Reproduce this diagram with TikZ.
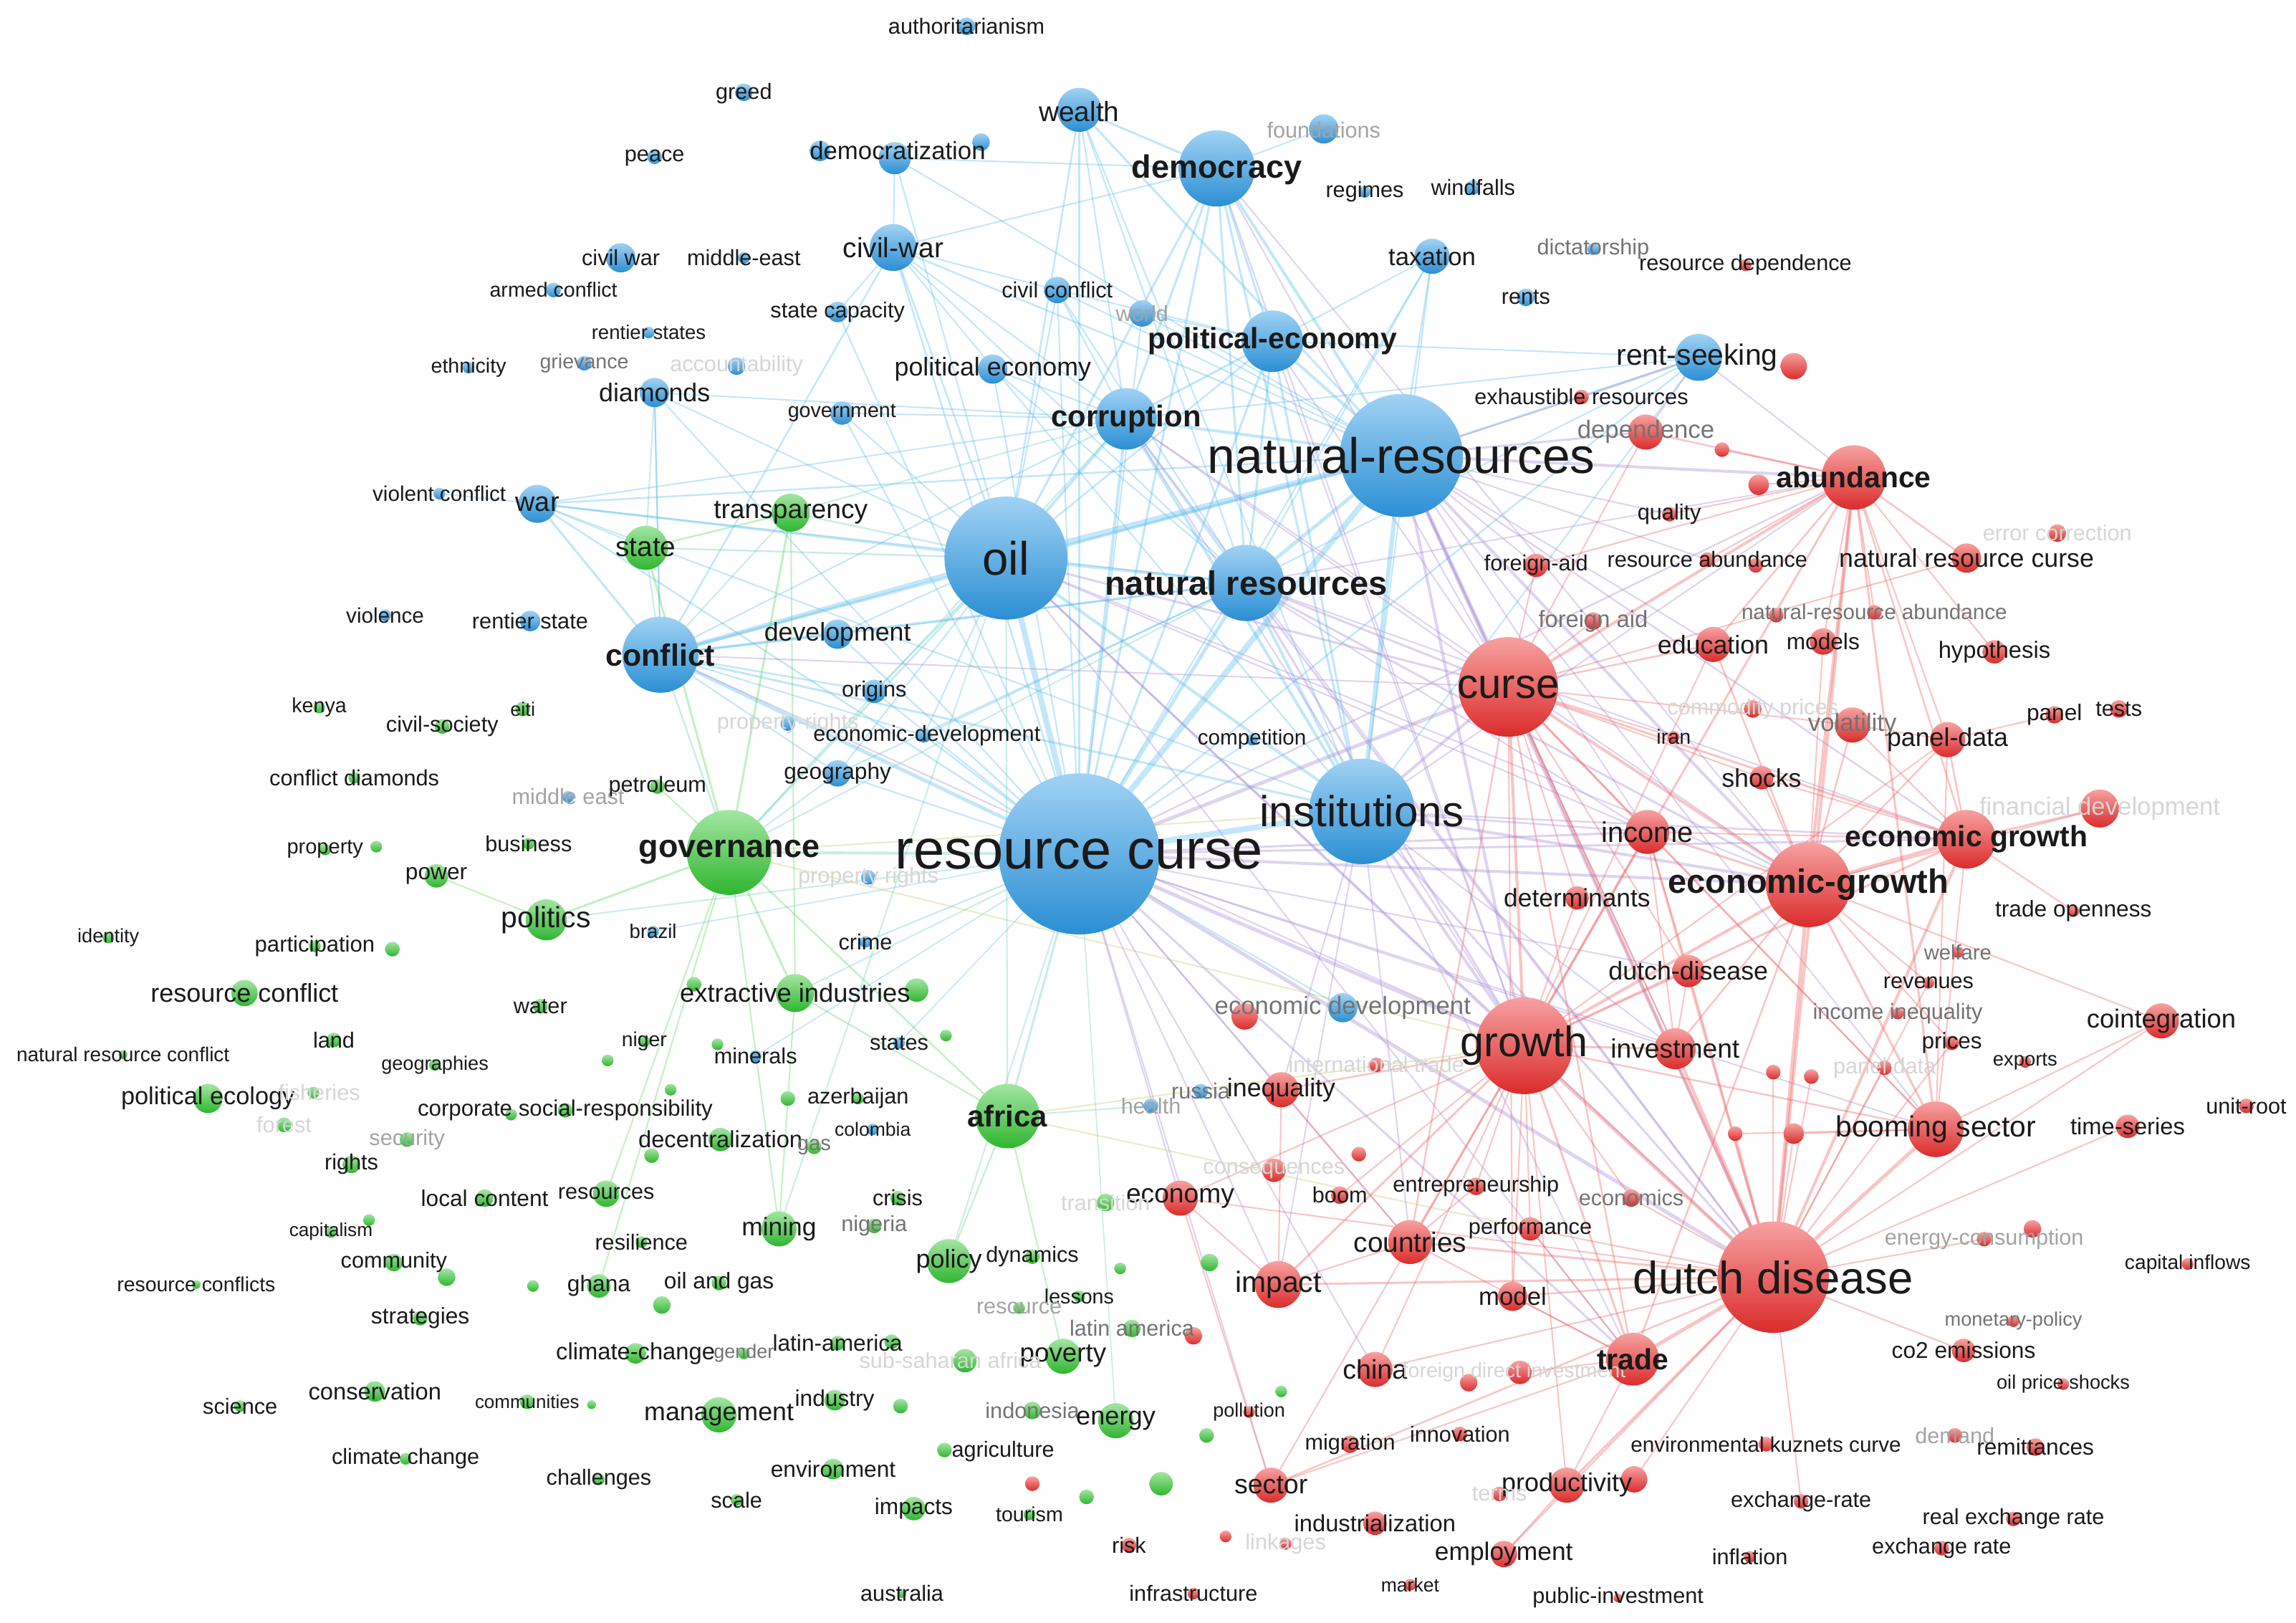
\documentclass[tikz,border=0pt]{standalone}
\usepackage{fontspec}
\setmainfont{Liberation Sans}
\definecolor{B}{HTML}{2E9BE6}
\definecolor{R}{HTML}{EE2F2F}
\definecolor{G}{HTML}{33C633}
\definecolor{ink}{HTML}{1A1A1A}
\colorlet{g1}{black!55}
\colorlet{g2}{black!36}
\colorlet{g3}{black!16}
\definecolor{eB}{HTML}{5BBDF0}
\definecolor{eR}{HTML}{F06060}
\definecolor{eG}{HTML}{5CD65C}
\definecolor{eP}{HTML}{A58AD8}
\definecolor{eT}{HTML}{6CCFC0}
\definecolor{eY}{HTML}{C8C860}
\pgfdeclarelayer{bgfill}\pgfdeclarelayer{bg}\pgfsetlayers{bgfill,bg,main}
\tikzset{
  dot/.style={circle, inner sep=0pt, draw=none},
  lab/.style={inner sep=0pt, anchor=center},
  edge/.style={line cap=round, opacity=0.36},
}
\def\kwlist{auth/660/18/6/B/0/0/15/ink/authoritarianism,
greed/508/63/6/B/0/1/15/ink/greed,
peace/447/107/5/B/0/1/15/ink/peace,
demz/611/108/11/B/2/-5/17/ink/democratization,
wealth/737/75/15/B/0/1/19/ink/wealth,
dem/831/115/26/B/0/1/22/ink/\bfseries democracy,
found/904/88/10/B/0/1/15/g2/foundations,
reg/932/131/4/B/0/0/15/ink/regimes,
wind/1006/128/5/B/0/0/15/ink/windfalls,
civw/424/176/10/B/0/0/15/ink/civil war,
mide/508/176/4/B/0/0/15/ink/middle-east,
cw/610/169/16/B/0/0/19/ink/civil-war,
armed/378/198/5/B/0/0/14/ink/armed conflict,
civc/722/198/9/B/0/0/15/ink/civil conflict,
stcap/572/213/7/B/0/0/15/ink/state capacity,
rents/443/227/4/B/0/0/13.5/ink/rentier states,
world/780/214/9/B/0/0/15/g2/world,
eth/320/251/4/B/0/0/14/ink/ethnicity,
griev/399/248/5/B/0/0/14/g1/grievance,
acc/503/250/6/B/0/0/15/g3/accountability,
diam/447/268/10/B/0/0/17.5/ink/diamonds,
polec/678/252/10/B/0/0/17.5/ink/political economy,
govt/575/282/8/B/0/0/14/ink/government,
pe/869/233/21/B/0/0/20/ink/\bfseries political-economy,
corr/769/286/21/B/0/0/20.5/ink/\bfseries corruption,
tax/978/175/12/B/0/0/17/ink/taxation,
dict/1088/170/4/B/0/0/15/g1/dictatorship,
rentz/1042/203/6/B/0/0/15/ink/rents,
rs/1160/244/16/B/-1/0/20/ink/rent-seeking,
nr/957/311/42/B/0/0/34/ink/natural-resources,
vc/300/337/4/B/0/0/14.5/ink/violent conflict,
war/367/344/13/B/0/0/18.5/ink/war,
oil/687/381/42/B/0/0/32/ink/oil,
nrs/851/398/26/B/0/0/23/ink/\bfseries natural resources,
viol/263/420/4/B/0/0/14.5/ink/violence,
rst/362/424/7/B/0/0/15/ink/rentier state,
conf/451/447/26/B/0/0/21/ink/\bfseries conflict,
dev/572/433/10/B/0/0/17.5/ink/development,
orig/597/472/8/B/0/0/15/ink/origins,
prr/538/494/5/B/0/0/15/g3/property-rights,
ecodev/631/502/5/B/2/0/15/ink/economic-development,
geog/572/528/9/B/0/0/15.5/ink/geography,
comp/855/505/4/B/0/0/14.5/ink/competition,
inst/930/554/36/B/0/0/29.5/ink/institutions,
midde/388/544/4/B/0/0/15/g2/middle east,
rc/737/583/55/B/0/0/38/ink/resource curse,
prr2/593/599/5/B/0/0/15/g3/property rights,
brazil/446/636/4/B/0/0/13.5/ink/brazil,
crime/591/643/4/B/0/0/15/ink/crime,
minerals/516/721/4/B/0/0/15/ink/minerals,
states/614/712/4/B/0/0/15/ink/states,
colom/596/771/4/B/0/0/13/ink/colombia,
health/786/755/5/B/0/0/15/g2/health,
russia/820/745/5/B/0/0/15/g1/russia,
edev2/917/688/10/B/0/0/17/g1/economic development,
rdep/1192/181/4/R/0/0/15/ink/resource dependence,
exh/1080/271/5/R/0/0/15/ink/exhaustible resources,
depd/1124/295/12/R/0/0/17/g1/dependence,
abund/1266/326/22/R/0/0/20/ink/\bfseries abundance,
qual/1140/351/5/R/0/0/15/ink/quality,
fa/1049/386/8/R/0/0/15/ink/foreign-aid,
rab/1166/382/5/R/0/0/15/ink/resource abundance,
nrcurse/1343/381/10/R/0/0/17.5/ink/natural resource curse,
errc/1405/364/6/R/0/0/15/g3/error correction,
fa2/1088/424/6/R/0/0/16/g1/foreign aid,
nrab/1280/418/5/R/0/0/14.5/g1/natural-resource abundance,
edu/1170/440/12/R/0/0/17.5/ink/education,
models/1245/438/9/R/0/0/15.5/ink/models,
hypo/1362/445/8/R/0/0/16/ink/hypothesis,
curse/1030/469/34/R/0/0/28.5/ink/curse,
iran/1143/503/4/R/0/0/14/ink/iran,
commp/1197/484/6/R/0/0/15/g3/commodity prices,
vol/1265/495/12/R/0/0/17/g1/volatility,
pdata/1330/505/12/R/0/0/17.5/ink/panel-data,
panel/1403/488/6/R/0/0/15.5/ink/panel,
tests/1447/484/6/R/0/0/15/ink/tests,
shocks/1203/531/8/R/0/0/17.5/ink/shocks,
findev/1434/552/13/R/0/0/17/g3/financial development,
eg2/1343/573/20/R/0/0/20/ink/\bfseries economic growth,
egr/1235/604/29/R/0/0/23/ink/\bfseries economic-growth,
inc/1125/568/15/R/0/0/19.5/ink/income,
detm/1077/613/8/R/0/0/17.3/ink/determinants,
topen/1416/622/4/R/0/0/15.5/ink/trade openness,
welf/1337/650/4/R/0/0/14.3/g1/welfare,
rev/1317/671/4/R/0/0/15/ink/revenues,
ddis/1153/663/11/R/0/0/17.5/ink/dutch-disease,
ineqi/1296/692/4/R/0/0/15/g1/income inequality,
coint/1476/697/12/R/0/0/17.8/ink/cointegration,
growth/1041/714/33/R/0/0/29/ink/growth,
invest/1144/716/14/R/0/0/18.2/ink/investment,
prices/1333/712/5/R/0/0/15.4/ink/prices,
exports/1383/725/4/R/0/0/13.4/ink/exports,
pdat2/1287/729/5/R/0/0/15/g3/panel data,
intr/940/727/5/R/0/0/15/g3/international trade,
ineq/875/744/12/R/0/0/17.5/ink/inequality,
unitr/1534/755/5/R/0/0/15/ink/unit-root,
tseries/1453/769/8/R/0/0/16/ink/time-series,
boom/1322/771/19/R/0/0/20/ink/booming sector,
economy/806/818/12/R/0/0/18.2/ink/economy,
boom2/915/816/6/R/0/0/15/ink/boom,
conseq/870/799/8/R/0/0/15/g3/consequences,
entre/1008/810/6/R/0/0/15/ink/entrepreneurship,
econs/1114/818/6/R/0/0/15/g1/economics,
perf/1045/839/8/R/0/0/15/ink/performance,
ctry/963/848/15/R/0/0/19/ink/countries,
impact/873/877/16/R/0/0/20/ink/impact,
model/1033/885/10/R/0/0/17/ink/model,
dd/1211/872/38/R/0/0/31/ink/dutch disease,
econs2/1355/846/5/R/0/0/15/g2/energy-consumption,
capin/1494/863/4/R/0/0/13.8/ink/capital inflows,
china/939/935/12/R/0/0/18.4/ink/china,
fdi/1038/937/8/R/-4/0/14/g3/foreign direct investment,
trade/1115/928/18/R/0/0/20/ink/\bfseries trade,
monp/1375/902/4/R/0/0/13.3/g1/monetary-policy,
co2/1341/922/8/R/0/0/15.5/ink/co2 emissions,
oilps/1409/945/4/R/0/0/13.3/ink/oil price shocks,
pollu/853/964/4/R/0/0/13.2/ink/pollution,
migr/922/986/6/R/0/0/15/ink/migration,
innov/997/979/5/R/0/0/15/ink/innovation,
ekc/1206/986/5/R/0/0/14.5/ink/environmental kuznets curve,
demand/1335/980/5/R/0/0/15/g2/demand,
remit/1390/988/6/R/0/0/15.5/ink/remittances,
sector/868/1014/12/R/0/0/18.4/ink/sector,
prod/1070/1014/12/R/0/0/17.6/ink/productivity,
terms/1024/1020/5/R/0/0/15/g3/terms,
exra/1230/1025/5/R/0/0/15/ink/exchange-rate,
rexr/1375/1037/5/R/0/0/15/ink/real exchange rate,
indz/939/1040/8/R/0/0/16/ink/industrialization,
linkg/878/1054/4/R/0/0/15/g3/linkages,
risk/771/1055/5/R/0/0/15/ink/risk,
employ/1027/1061/9/R/0/0/17.3/ink/employment,
infl/1195/1063/4/R/0/0/15/ink/inflation,
exr/1326/1057/5/R/0/0/15/ink/exchange rate,
infra/815/1088/4/R/0/0/15/ink/infrastructure,
market/963/1082/4/R/0/0/13/ink/market,
pubinv/1105/1091/3/R/0/0/15/ink/public-investment,
state/441/374/15/G/0/0/19/ink/state,
transp/540/350/13/G/0/0/18.2/ink/transparency,
kenya/218/483/4/G/0/0/14/ink/kenya,
civsoc/302/496/5/G/0/0/15/ink/civil-society,
eiti/357/484/5/G/0/0/13.3/ink/eiti,
cdiam/242/531/4/G/0/0/15/ink/conflict diamonds,
petro/449/537/5/G/0/0/15/ink/petroleum,
prop/222/580/4/G/0/0/14.2/ink/property,
bus/361/576/4/G/0/0/15/ink/business,
power/298/598/8/G/0/0/15.5/ink/power,
gov/498/582/29/G/0/0/22/ink/\bfseries governance,
ident/74/640/4/G/0/0/13.3/ink/identity,
partic/215/646/4/G/0/0/15.2/ink/participation,
politics/373/628/14/G/0/0/20/ink/politics,
rconf/167/678/9/G/0/0/17.6/ink/resource conflict,
water/369/687/5/G/0/0/15/ink/water,
extr/543/678/13/G/0/0/17.8/ink/extractive industries,
land/228/710/5/G/0/0/15/ink/land,
nrconf/84/720/3/G/0/0/13.7/ink/natural resource conflict,
niger/440/711/4/G/0/0/13.9/ink/niger,
geogr/297/727/4/G/0/0/13.3/ink/geographies,
pecol/142/750/10/G/0/0/16.8/ink/political ecology,
fish/214/746/4/G/4/0/15/g3/fisheries,
forest/194/768/5/G/0/0/15/g3/forest,
csr/386/758/5/G/0/0/15.3/ink/corporate social-responsibility,
secu/278/778/5/G/0/0/15/g2/security,
azer/586/750/4/G/0/0/15/ink/azerbaijan,
decen/492/778/8/G/0/0/16/ink/decentralization,
gas/556/783/5/G/0/0/14.3/g1/gas,
africa/688/762/22/G/0/0/20.5/ink/\bfseries africa,
rights/240/795/6/G/0/0/15/ink/rights,
localc/331/818/6/G/0/0/15.5/ink/local content,
resour/414/815/9/G/0/0/15/ink/resources,
crisis/613/818/5/G/0/0/15/ink/crisis,
nigeria/597/837/5/G/0/0/15/g1/nigeria,
mining/532/839/12/G/0/0/17.3/ink/mining,
resil/438/848/4/G/0/0/15/ink/resilience,
capit/226/841/4/G/0/0/12.8/ink/capitalism,
commty/269/862/6/G/0/0/15/ink/community,
rconfs/134/877/3/G/0/0/13.9/ink/resource conflicts,
ghana/409/878/8/G/0/0/15.5/ink/ghana,
oag/491/876/5/G/0/0/15.5/ink/oil and gas,
strat/287/900/5/G/0/0/15.5/ink/strategies,
trans/755/821/6/G/0/0/15/g3/transition,
policy/648/861/15/G/0/0/17.6/ink/policy,
dyn/705/858/5/G/0/0/15/ink/dynamics,
lessons/737/885/4/G/0/0/14/ink/lessons,
resrc/696/893/4/G/0/0/15/g2/resource,
latam/773/907/6/G/0/0/15/g1/latin america,
clch/434/924/7/G/0/0/16/ink/climate-change,
gender/508/924/4/G/0/0/13.2/g1/gender,
latam2/572/917/5/G/0/0/15.5/ink/latin-america,
poverty/726/926/12/G/0/0/18/ink/poverty,
ssa/659/929/8/G/-10/0/15/g3/sub-saharan africa,
science/164/960/4/G/0/0/15/ink/science,
conserv/256/950/7/G/0/0/16/ink/conservation,
cmties/360/957/5/G/0/0/12.7/ink/communities,
manag/491/966/12/G/0/0/17.5/ink/management,
industry/570/956/7/G/0/0/15.5/ink/industry,
indon/705/963/6/G/0/0/15/g1/indonesia,
energy/762/970/12/G/0/0/17.7/ink/energy,
clch2/277/996/4/G/0/0/15/ink/climate change,
agri/645/990/5/G/40/1/15/ink/agriculture,
chall/409/1010/4/G/0/0/15/ink/challenges,
envir/569/1003/7/G/0/0/15.5/ink/environment,
scale/503/1024/4/G/0/0/15/ink/scale,
impacts/624/1030/8/G/0/0/15.5/ink/impacts,
tourism/703/1034/4/G/0/0/14/ink/tourism,
austr/616/1088/3/G/0/0/15/ink/australia}
\def\dotlist{u1/560/103/7/B, u2/670/97/6/B, u3/1225/250/9/R, u4/1176/307/5/R, u5/1201/331/7/R,
u6/1199/386/5/R, u7/1213/420/5/R, u8/257/578/4/G, u9/268/648/5/G, u10/474/672/5/G, u11/626/676/8/G,
u12/850/694/9/R, u13/415/724/4/G, u14/490/713/4/G, u15/646/707/4/G, u16/1211/732/5/R, u17/1237/735/5/R,
u18/349/761/4/G, u19/458/744/4/G, u20/538/750/5/G, u21/445/789/5/G, u22/252/833/4/G, u23/305/872/6/G,
u24/364/878/4/G, u25/452/891/6/G, u26/765/866/4/G, u27/826/862/6/G, u28/928/788/5/R, u29/1388/839/6/R,
u30/815/912/6/R, u31/609/916/5/G, u32/1003/944/6/R, u33/615/960/5/G, u34/875/950/4/G, u35/824/980/5/G,
u36/705/1013/5/R, u37/742/1022/5/G, u38/793/1013/8/G, u39/1116/1010/9/R, u40/837/1049/4/R,
u41/1185/774/5/R, u42/1225/774/7/R, u43/404/959/3/G}
\def\edgesB{rc/oil/4, rc/nr/4, rc/inst/4, rc/nrs/2.5, rc/conf/2.5, rc/dem/1.5, rc/corr/2, rc/pe/1.5,
rc/cw/1.2, rc/wealth/1.2, rc/war/1.2, rc/dev/1.2, rc/ecodev/1.2, rc/geog/1, rc/orig/1, rc/polec/1, rc/civc/1,
rc/tax/1, rc/rs/1.2, rc/stcap/1, rc/comp/1, rc/crime/1, rc/diam/1, rc/world/1, rc/govt/1, rc/edev2/1,
rc/brazil/0.8, rc/states/0.8, rc/minerals/0.8,
oil/nr/4, oil/conf/3, oil/dem/1.5, oil/corr/2, oil/nrs/2, oil/inst/2, oil/cw/1.2, oil/war/1.5, oil/wealth/1.2,
oil/pe/1.2, oil/civc/1, oil/dev/1, oil/diam/1, oil/demz/1, oil/govt/1, oil/ecodev/1, oil/orig/1, oil/geog/1,
nr/dem/2, nr/pe/2, nr/corr/2, nr/nrs/2.5, nr/inst/3, nr/wealth/1.5, nr/rs/1.5, nr/tax/1.2, nr/civc/1, nr/cw/1.2,
nr/world/1, nr/conf/2, nr/war/1.2, nr/demz/1,
inst/nrs/2, inst/corr/2, inst/dem/1.5, inst/pe/1.5, inst/conf/1.5, inst/war/1, inst/wealth/1, inst/tax/1,
inst/rs/1, inst/cw/1,
dem/wealth/1.5, dem/demz/1, dem/corr/1.5, dem/pe/1.5, dem/cw/1, dem/nrs/1.5, dem/found/1,
conf/war/1.5, conf/diam/1, conf/cw/1.2, conf/dev/1.5, conf/nrs/1.5, conf/corr/1, conf/orig/1.2, conf/ecodev/1,
conf/geog/1,
cw/demz/1, cw/civc/1, cw/stcap/1, cw/nrs/1, cw/corr/1, war/vc/1, war/nrs/1, war/corr/1,
diam/corr/1, diam/conf/1, rs/pe/1, rs/nrs/1, rs/corr/1, tax/pe/1, tax/nrs/1,
pe/nrs/1.5, pe/corr/1.5, corr/nrs/1.5, wealth/nrs/1, wealth/corr/1, civc/nrs/1, polec/nrs/1,
corr/civc/1, corr/polec/1, corr/govt/1, pe/world/1, pe/civc/1, nrs/dev/1, nrs/geog/1, nrs/ecodev/1}
\def\edgesP{rc/curse/2.5, rc/growth/2.5, rc/dd/2.5, rc/egr/2, rc/inc/1.5, rc/trade/1.5, rc/ctry/1, rc/impact/1,
rc/ineq/1, rc/economy/1, rc/sector/1, rc/eg2/1.5, rc/abund/1.2, rc/invest/1, rc/ddis/1, rc/china/1, rc/boom/1,
nr/curse/2.5, nr/abund/2, nr/egr/2, nr/growth/2, nr/dd/2, nr/depd/1.5, nr/exh/1, nr/fa/1, nr/rab/1, nr/qual/1,
nr/inc/1, nr/eg2/1.2, nr/edu/1, nr/boom/1, nr/invest/1,
inst/curse/2, inst/growth/2, inst/egr/2, inst/dd/1.5, inst/inc/1.2, inst/ctry/1, inst/eg2/1.2, inst/abund/1,
inst/ineq/1, inst/impact/1, inst/trade/1, inst/invest/1,
oil/curse/1.5, oil/growth/1.5, oil/dd/1.2, oil/egr/1, oil/inc/1, oil/trade/1,
nrs/curse/1.5, nrs/growth/1.5, nrs/dd/1.5, nrs/egr/1.5, nrs/abund/1, nrs/inc/1, nrs/eg2/1,
corr/growth/1, corr/curse/1, corr/egr/1, corr/dd/1, dem/curse/1, dem/growth/1, dem/egr/1, pe/curse/1,
pe/growth/1, rs/abund/1, rs/depd/1, rs/exh/1.5, conf/growth/1, conf/curse/1}
\def\edgesR{curse/growth/2, curse/egr/2, curse/dd/2, curse/abund/2, curse/inc/1.5, curse/fa/1, curse/edu/1.2,
curse/vol/1, curse/eg2/1.5, curse/shocks/1, curse/trade/1.2, curse/ctry/1.2, curse/detm/1, curse/invest/1,
curse/depd/1, curse/fa2/1, curse/iran/1, curse/model/1, curse/nrcurse/1, curse/boom/1, curse/ddis/1,
growth/dd/2.5, growth/egr/2, growth/trade/1.5, growth/ctry/1.5, growth/impact/1.5, growth/invest/1.5,
growth/inc/1.5, growth/ineq/1.2, growth/abund/1.5, growth/economy/1, growth/boom2/1, growth/boom/1.2,
growth/prod/1, growth/edu/1, growth/pdata/1, growth/model/1, growth/eg2/1.5, growth/detm/1, growth/ddis/1,
growth/sector/1, growth/china/1, growth/entre/1, growth/perf/1, growth/econs/1,
dd/trade/2.5, dd/boom/2.5, dd/egr/2.5, dd/eg2/2, dd/invest/2, dd/prod/1.5, dd/employ/1.2, dd/sector/1.2,
dd/impact/1.5, dd/ctry/1.5, dd/model/1.2, dd/abund/2, dd/inc/1.5, dd/ddis/1.2, dd/perf/1, dd/econs/1,
dd/u41/1, dd/u42/1, dd/prices/1, dd/rev/1, dd/u16/1, dd/u17/1, dd/exra/1, dd/co2/1, dd/econs2/1, dd/pdat2/1,
dd/u39/1, dd/economy/1, dd/china/1, dd/coint/1, dd/tseries/1,
egr/eg2/2.5, egr/abund/2, egr/inc/1.5, egr/edu/1.2, egr/pdata/1.2, egr/trade/1.2, egr/boom/1.5, egr/findev/1,
egr/vol/1.2, egr/shocks/1.2, egr/invest/1.2, egr/models/1, egr/coint/1, egr/prices/1, egr/rev/1,
eg2/findev/1.5, eg2/pdata/1.2, eg2/abund/1.2, eg2/vol/1, eg2/shocks/1, eg2/inc/1, eg2/boom/1, eg2/topen/1,
abund/depd/1.2, abund/qual/1, abund/u5/1, abund/fa/1, abund/edu/1.2, abund/models/1, abund/boom/1.5,
abund/rab/1, abund/nrab/1, abund/u4/1, abund/nrcurse/1.2, abund/hypo/1, abund/pdata/1,
trade/ctry/1, trade/model/1, trade/fdi/1, trade/prod/1, trade/perf/1, trade/sector/1,
boom/coint/1, boom/u41/1, boom/u42/1, boom/pdata/1, employ/prod/1,
economy/sector/1, economy/impact/1, impact/ineq/1, ctry/impact/1, ctry/entre/1, ctry/ineq/1,
inc/invest/1, inc/ddis/1, inc/boom/1, pdata/panel/1, pdata/vol/1, ddis/invest/1}
\def\edgesG{gov/transp/1.5, gov/state/1.5, gov/extr/1.5, gov/politics/1.5, gov/africa/1.2, gov/mining/1,
gov/ghana/1, gov/petro/1, gov/resour/1, state/transp/1.2, transp/extr/1, africa/policy/1, africa/extr/1,
africa/poverty/1, extr/mining/1, politics/power/1}
\def\edgesT{gov/rc/2, gov/oil/1.5, gov/conf/1.2, gov/corr/1, gov/nrs/1, gov/geog/1, state/oil/1.2, state/conf/1,
transp/oil/1.2, transp/corr/1, transp/conf/1, africa/rc/1.5, africa/oil/1, africa/health/1, extr/rc/1,
politics/rc/1, policy/rc/1, energy/rc/0.8, mining/oil/1, war/state/1, diam/state/1}
\def\edgesY{africa/growth/1, africa/perf/1, gov/inst/1, gov/growth/1}
\begin{document}
\begin{tikzpicture}[x=1pt,y=-1pt]
\begin{pgfonlayer}{bgfill}
\fill[white] (0,0) rectangle (1568,1108);
\end{pgfonlayer}
\useasboundingbox (0,0) rectangle (1568,1108);
\foreach \nm/\xx/\yy/\rr/\cc/\ddx/\ddy/\fs/\tc/\tx in \kwlist {
  \node[dot, minimum size=2*\rr*1pt, top color=\cc!45!white, bottom color=\cc!92!black] (\nm) at (\xx,\yy) {};
}
\foreach \nm/\xx/\yy/\rr/\cc in \dotlist {
  \node[dot, minimum size=2*\rr*1pt, top color=\cc!45!white, bottom color=\cc!92!black] (\nm) at (\xx,\yy) {};
}
\begin{pgfonlayer}{bg}
\foreach \ea/\eb/\ew in \edgesB {\draw[edge, eB, line width=\ew*1pt] (\ea.center) -- (\eb.center);}
\foreach \ea/\eb/\ew in \edgesP {\draw[edge, eP, line width=\ew*1pt] (\ea.center) -- (\eb.center);}
\foreach \ea/\eb/\ew in \edgesR {\draw[edge, eR, line width=\ew*1pt] (\ea.center) -- (\eb.center);}
\foreach \ea/\eb/\ew in \edgesG {\draw[edge, eG, line width=\ew*1pt] (\ea.center) -- (\eb.center);}
\foreach \ea/\eb/\ew in \edgesT {\draw[edge, eT, line width=\ew*1pt] (\ea.center) -- (\eb.center);}
\foreach \ea/\eb/\ew in \edgesY {\draw[edge, eY, line width=\ew*1pt] (\ea.center) -- (\eb.center);}
\end{pgfonlayer}
\foreach \nm/\xx/\yy/\rr/\cc/\ddx/\ddy/\fs/\tc/\tx in \kwlist {
  \node[lab, text=\tc, font=\fontsize{\fs}{\fs}\selectfont] (\nm-t) at ([shift={(\ddx,\ddy)}]\nm.center) {\tx};
}
\end{tikzpicture}
\end{document}
